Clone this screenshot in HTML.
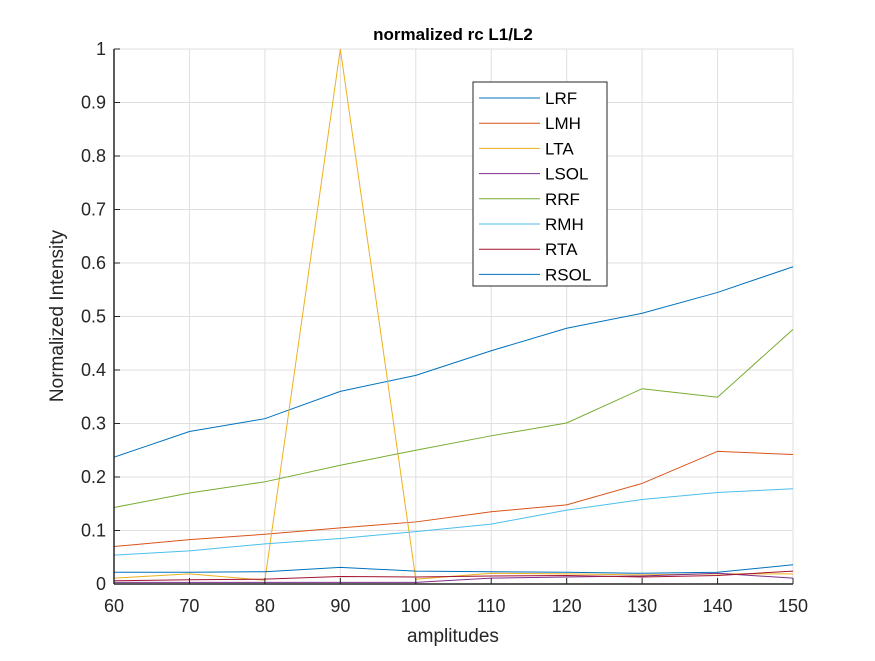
<!DOCTYPE html>
<html><head><meta charset="utf-8"><style>
body{margin:0;background:#fff;}
svg text{font-family:"Liberation Sans",Arial,sans-serif;}
</style></head><body>
<svg id="chart" width="875" height="656" xmlns="http://www.w3.org/2000/svg">
<rect width="875" height="656" fill="#fff"/>
<g id="grid"></g>
<g id="series"></g>
<g id="axes"></g>
<text x="453" y="40" text-anchor="middle" font-size="17" font-weight="bold" fill="#000">normalized rc L1/L2</text>
<text x="453" y="642" text-anchor="middle" font-size="19" fill="#262626">amplitudes</text>
<text transform="translate(63,316) rotate(-90)" text-anchor="middle" font-size="19" fill="#262626">Normalized Intensity</text>
<g id="legend"></g>
</svg>
<script>
const categories=[60,70,80,90,100,110,120,130,140,150];
const seriesNames=["LRF","LMH","LTA","LSOL","RRF","RMH","RTA","RSOL"];
const LRF=[.237,.285,.309,.360,.390,.436,.478,.506,.545,.593];
const LMH=[.070,.083,.093,.105,.116,.135,.148,.188,.248,.242];
const LTA=[.011,.019,.007,1.0,.009,.020,.019,.017,.019,.019];
const LSOL=[.003,.003,.003,.003,.003,.011,.013,.015,.020,.011];
const RRF=[.143,.170,.191,.222,.250,.277,.301,.365,.349,.476];
const RMH=[.054,.062,.075,.085,.098,.112,.138,.158,.171,.178];
const RTA=[.006,.008,.009,.014,.013,.015,.016,.013,.016,.024];
const RSOL=[.022,.022,.023,.031,.024,.023,.022,.020,.022,.036];
const xTicks=[60,70,80,90,100,110,120,130,140,150];
const yTicks=[0,0.1,0.2,0.3,0.4,0.5,0.6,0.7,0.8,0.9,1];
const yTickLabels=["0","0.1","0.2","0.3","0.4","0.5","0.6","0.7","0.8","0.9","1"];
const colors=["#0072BD","#D95319","#EDB120","#7E2F8E","#77AC30","#4DBEEE","#A2142F","#0072BD"];
const allSeries=[LRF,LMH,LTA,LSOL,RRF,RMH,RTA,RSOL];
const L=114,R=793,T=49,B=584;
const xs=v=>L+(v-60)/90*(R-L);
const ys=v=>B-v*(B-T);
const NS="http://www.w3.org/2000/svg";
function mk(tag,attrs,parent){const e=document.createElementNS(NS,tag);for(const k in attrs)e.setAttribute(k,attrs[k]);parent.appendChild(e);return e;}
const grid=document.getElementById('grid'),axes=document.getElementById('axes'),ser=document.getElementById('series'),leg=document.getElementById('legend');
xTicks.forEach(t=>{const g=mk('line',{x1:xs(t),x2:xs(t),y1:T,y2:B,stroke:'#dfdfdf','stroke-width':1},grid);
const k=mk('line',{x1:xs(t),x2:xs(t),y1:B,y2:B-6,stroke:'#262626'},axes);
const tx=mk('text',{x:xs(t),y:B+28,'text-anchor':'middle','font-size':18,fill:'#262626'},axes);tx.textContent=t;});
yTicks.forEach((t,i)=>{const g=mk('line',{x1:L,x2:R,y1:ys(t),y2:ys(t),stroke:'#dfdfdf','stroke-width':1},grid);
const k=mk('line',{x1:L,x2:L+6,y1:ys(t),y2:ys(t),stroke:'#262626'},axes);
const tx=mk('text',{x:L-8,y:ys(t)+6,'text-anchor':'end','font-size':18,fill:'#262626'},axes);tx.textContent=yTickLabels[i];});
const xa=mk('line',{x1:L,x2:R,y1:B,y2:B,stroke:'#262626','stroke-width':1.5},axes);
const ya=mk('line',{x1:L,x2:L,y1:T,y2:B,stroke:'#262626','stroke-width':1.5},axes);
allSeries.forEach((d,i)=>{const p=mk('polyline',{points:d.map((v,j)=>xs(categories[j])+','+ys(v)).join(' '),fill:'none',stroke:colors[i],'stroke-width':1},ser);
});
const lb=mk('rect',{x:473,y:82,width:134,height:204,fill:'#fff',stroke:'#262626','stroke-width':1},leg);
seriesNames.forEach((n,i)=>{const y=98+i*25.2;
const l=mk('line',{x1:479,x2:540,y1:y,y2:y,stroke:colors[i],'stroke-width':1},leg);
const t=mk('text',{x:545,y:y+6,'font-size':17,fill:'#000'},leg);t.textContent=n;});
</script>
</body></html>
